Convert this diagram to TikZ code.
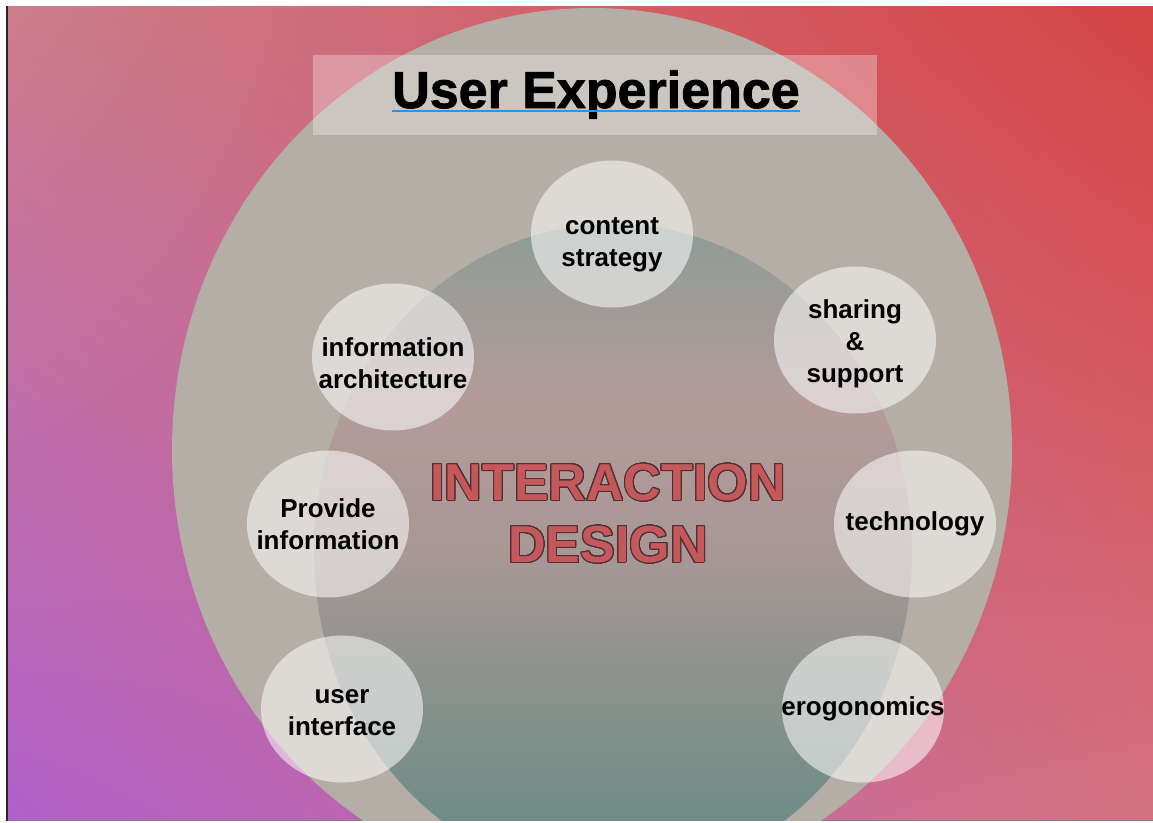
\documentclass[tikz,border=0pt]{standalone}
\usepackage{fontspec}
\setmainfont{Liberation Sans}
\newfontfamily\uxheavy{Liberation Sans Bold}[FakeBold=1.6]
\usepackage{contour}
\usetikzlibrary{shapes.geometric,shadings}

\definecolor{bgUL}{RGB}{205,125,140}
\definecolor{bgUR}{RGB}{213,68,68}
\definecolor{bgLL}{RGB}{176,96,200}
\definecolor{bgLR}{RGB}{212,114,128}
\definecolor{uxgray}{RGB}{181,174,166}
\definecolor{innerTop}{RGB}{140,156,150}
\definecolor{innerPink}{RGB}{180,155,154}
\definecolor{innerMid}{RGB}{166,151,149}
\definecolor{innerBot}{RGB}{108,140,133}
\definecolor{ixdred}{RGB}{197,88,93}
\definecolor{ixdline}{RGB}{80,48,48}
\definecolor{ulblue}{RGB}{33,150,243}
\definecolor{edgedark}{RGB}{40,36,40}

\contourlength{1.0pt}
\contournumber{24}

\tikzset{
  bubble/.style={ellipse, fill=white, fill opacity=.55, text opacity=1,
    minimum width=162pt, minimum height=147pt, inner sep=-40pt,
    align=center, font=\bfseries\fontsize{26}{32}\selectfont},
  titletext/.style={inner sep=0pt, font=\uxheavy\fontsize{52}{60}\selectfont},
  ixdtext/.style={align=center, text=ixdred, inner sep=0pt,
    font=\bfseries\fontsize{52}{62}\selectfont},
  underline/.style={ulblue, line width=2.5pt}
}

\begin{document}
\begin{tikzpicture}[x=1pt,y=-1pt]
  \useasboundingbox (0,0) rectangle (1153,822);
  % frame and background
  \fill[white] (0,0) rectangle (1153,822);
  \fill[edgedark] (5.5,6) rectangle (8,821);
  \shade[upper left=bgUL, upper right=bgUR, lower left=bgLL, lower right=bgLR]
    (8,6) rectangle (1153,820);
  \draw[gray, line width=1pt] (8,820.5) -- (1153,820.5);

  \begin{scope}
    \clip (8,6) rectangle (1153,820);
    % user experience
    \fill[uxgray] (592,450) ellipse [x radius=420, y radius=442];
    % interaction design
    \begin{scope}
      \clip (613,552) ellipse [x radius=299, y radius=328];
      \shade[top color=innerTop, bottom color=innerPink] (300,220) rectangle (930,401);
      \shade[top color=innerPink, bottom color=innerMid] (300,400) rectangle (930,561);
      \shade[top color=innerMid, bottom color=innerBot] (300,560) rectangle (930,830);
    \end{scope}
  \end{scope}

  \fill[white, opacity=.3] (313,55) rectangle (877,135);
  \node (uxtitle) [titletext, anchor=base] at (596,108) {User Experience};
  \draw[underline] ([yshift=-3pt]uxtitle.base west) -- ([yshift=-3pt]uxtitle.base east);

  \node (content) [bubble, text height=71pt] at (612,234) {content\\strategy};
  \node (sharing) [bubble, text height=91pt] at (855,340) {sharing\\\&\\support};
  \node (tech) [bubble] at (915,524) {technology};
  \node (ergo) [bubble] at (863,709) {erogonomics};
  \node (ui) [bubble, text height=53pt] at (342,709) {user\\interface};
  \node (provide) [bubble] at (328,524) {Provide\\information};
  \node (infoarch) [bubble, text height=63pt] at (393,357) {information\\architecture};

  \node (ixd) [ixdtext] at (608,514)
    {\contour{ixdline}{INTERACTION}\\\contour{ixdline}{DESIGN}};
\end{tikzpicture}
\end{document}
